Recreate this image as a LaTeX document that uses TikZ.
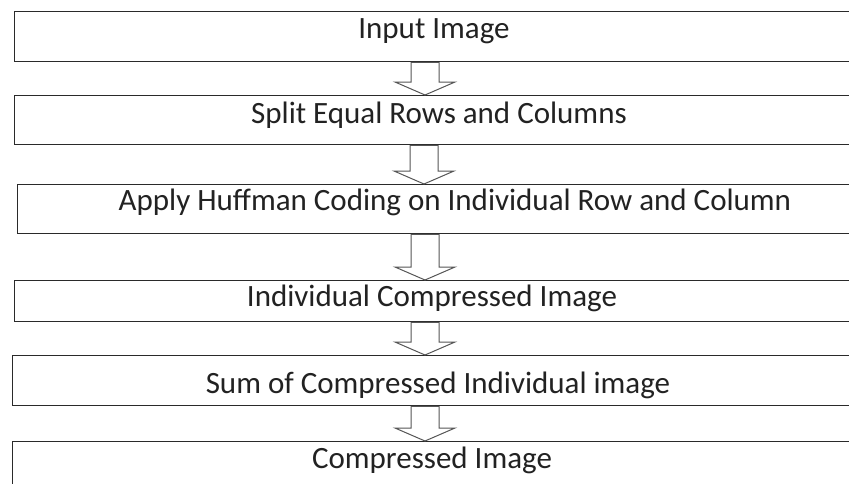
\documentclass[tikz,border=0pt]{standalone}
\usepackage{fontspec}
\setmainfont{Carlito}
\usetikzlibrary{calc}
\definecolor{boxline}{HTML}{2A2A2A}
\definecolor{arrline}{HTML}{555555}
\definecolor{txt}{HTML}{222222}
% hollow block arrow from the bottom of one box to the top of the next
\newcommand\flowarrow[3]{%
  \draw[flow] let \p1=(#2.south), \p2=(#3.north) in
    ({#1pt-14pt},\y1) -- ({#1pt-14pt},{\y2+13pt}) -- ({#1pt-30pt},{\y2+13pt})
    -- (#1pt,\y2) -- ({#1pt+30pt},{\y2+13pt}) -- ({#1pt+14pt},{\y2+13pt})
    -- ({#1pt+14pt},\y1) -- cycle;}
\begin{document}
\begin{tikzpicture}[x=1pt,y=-1pt,
  stage/.style={draw=boxline, line width=1.3pt, anchor=north west, inner sep=0pt,
    minimum width=880pt, minimum height=#1},
  lbl/.style={anchor=base, inner sep=0pt, text=txt,
    font=\fontsize{31}{37}\selectfont},
  flow/.style={draw=arrline, line width=1pt, fill=white}]
\useasboundingbox (0,0) rectangle (849,483);
\clip (0,0) rectangle (849,483);
\fill[white] (0,0) rectangle (849,483);
% process stages
\node[stage=50pt] (b1) at (14,11) {};
\node[stage=49pt] (b2) at (14,95) {};
\node[stage=49pt] (b3) at (17,184) {};
\node[stage=41pt] (b4) at (14,280) {};
\node[stage=50pt] (b5) at (12,355) {};
\node[stage=60pt] (b6) at (12,441) {};
% stage labels
\node[lbl] (t1) at (434,38) {Input Image};
\node[lbl] (t2) at (439,123) {Split Equal Rows and Columns};
\node[lbl] (t3) at (455,210) {Apply Huffman Coding on Individual Row and Column};
\node[lbl] (t4) at (432,306) {Individual Compressed Image};
\node[lbl] (t5) at (438,393) {Sum of Compressed Individual image};
\node[lbl] (t6) at (432,468) {Compressed Image};
% connectors
\flowarrow{425}{b1}{b2}
\flowarrow{424}{b2}{b3}
\flowarrow{425}{b3}{b4}
\flowarrow{425}{b4}{b5}
\flowarrow{425}{b5}{b6}
\end{tikzpicture}
\end{document}
